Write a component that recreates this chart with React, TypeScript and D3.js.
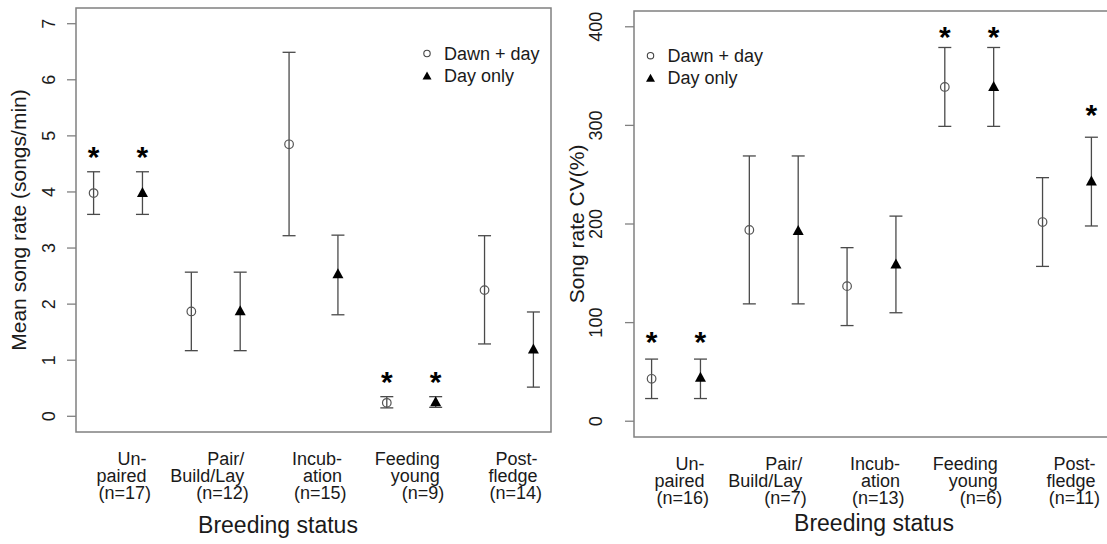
import React from "react";
import * as d3 from "d3";

// ---------- data ----------
const categories: string[][] = [
  ["Un-", "paired"],
  ["Pair/", "Build/Lay"],
  ["Incub-", "ation"],
  ["Feeding", "young"],
  ["Post-", "fledge"],
];
const nLeft = [17, 12, 15, 9, 14];
const nRight = [16, 7, 13, 6, 11];

// Mean song rate (songs/min)
const rateDawnMean = [3.98, 1.87, 4.85, 0.24, 2.25];
const rateDawnUpper = [4.36, 2.57, 6.49, 0.35, 3.22];
const rateDawnLower = [3.6, 1.17, 3.22, 0.15, 1.29];
const rateDayMean = [4.0, 1.89, 2.55, 0.27, 1.21];
const rateDayUpper = [4.36, 2.57, 3.23, 0.35, 1.86];
const rateDayLower = [3.6, 1.17, 1.81, 0.16, 0.52];
const rateStarDawn: (number | null)[] = [4.74, null, null, 0.745, null];
const rateStarDay: (number | null)[] = [4.74, null, null, 0.745, null];

// Song rate CV (%)
const cvDawnMean = [43, 194, 137, 339, 202];
const cvDawnUpper = [63, 269, 176, 379, 247];
const cvDawnLower = [23, 119, 97, 299, 157];
const cvDayMean = [45, 194, 160, 340, 244];
const cvDayUpper = [63, 269, 208, 379, 288];
const cvDayLower = [23, 119, 110, 299, 198];
const cvStarDawn: (number | null)[] = [87, null, null, 397, null];
const cvStarDay: (number | null)[] = [87, null, null, 397, 318];

const rateTicks = [0, 1, 2, 3, 4, 5, 6, 7];
const cvTicks = [0, 100, 200, 300, 400];

const legendLabels = ["Dawn + day", "Day only"];
const xTitle = "Breeding status";

// ---------- styles ----------
const FONT = "'Liberation Sans', Arial, Helvetica, sans-serif";
const BOX = "#808080";
const BAR = "#4a4a4a";
const TXT = "#1a1a1a";

type PanelProps = {
  xRange: [number, number];
  yDomain: [number, number];
  yRange: [number, number];
  ticks: number[];
  dawn: { mean: number[]; up: number[]; lo: number[]; star: (number | null)[] };
  day: { mean: number[]; up: number[]; lo: number[]; star: (number | null)[] };
  ns: number[];
  yTitle: string;
  yTitleX: number;
  tickLabelX: number;
  legendX: number;
  legendY: number;
  xTitleX: number;
  xTitleY: number;
  boxRight: number;
};

function Panel(p: PanelProps) {
  const x = d3.scaleLinear().domain([0.64, 10.36]).range(p.xRange);
  const y = d3.scaleLinear().domain(p.yDomain).range(p.yRange);
  const [x0] = p.xRange;
  const [yb, yt] = p.yRange;
  const cap = 6.5;

  const tri = (cx: number, cy: number, w: number, h: number) =>
    `M${cx},${cy - h / 2}L${cx + w / 2},${cy + h / 2}L${cx - w / 2},${cy + h / 2}Z`;

  const series = [
    { s: p.dawn, off: 1, kind: "circle" },
    { s: p.day, off: 2, kind: "tri" },
  ];

  return (
    <g>
      <rect x={x0} y={yt} width={p.boxRight - x0} height={yb - yt} fill="none" stroke={BOX} strokeWidth={1.5} />
      {p.ticks.map((t) => (
        <g key={t}>
          <line x1={x0 - 9} x2={x0} y1={y(t)} y2={y(t)} stroke={BOX} strokeWidth={1.3} />
          <text
            transform={`translate(${p.tickLabelX},${y(t)}) rotate(-90)`}
            textAnchor="middle"
            fontSize={18}
            fill={TXT}
            fontFamily={FONT}
          >
            {t}
          </text>
        </g>
      ))}
      <text
        transform={`translate(${p.yTitleX},${(yb + yt) / 2}) rotate(-90)`}
        textAnchor="middle"
        fontSize={21}
        fill={TXT}
        fontFamily={FONT}
      >
        {p.yTitle}
      </text>
      {series.map(({ s, off, kind }) =>
        s.mean.map((m, i) => {
          const cx = x(2 * i + off);
          return (
            <g key={`${off}-${i}`}>
              <line x1={cx} x2={cx} y1={y(s.lo[i])} y2={y(s.up[i])} stroke={BAR} strokeWidth={1.3} />
              <line x1={cx - cap} x2={cx + cap} y1={y(s.lo[i])} y2={y(s.lo[i])} stroke={BAR} strokeWidth={1.3} />
              <line x1={cx - cap} x2={cx + cap} y1={y(s.up[i])} y2={y(s.up[i])} stroke={BAR} strokeWidth={1.3} />
              {kind === "circle" ? (
                <circle cx={cx} cy={y(m)} r={4.3} fill="none" stroke="#555" strokeWidth={1.2} />
              ) : (
                <path d={tri(cx, y(m), 11, 10)} fill="#000" />
              )}
              {s.star[i] != null && (
                <text
                  x={cx}
                  y={y(s.star[i] as number) + 17}
                  textAnchor="middle"
                  fontSize={30}
                  fontWeight="bold"
                  fill="#000"
                  fontFamily={FONT}
                >
                  *
                </text>
              )}
            </g>
          );
        })
      )}
      {categories.map((c, i) => {
        const gc = (x(2 * i + 1) + x(2 * i + 2)) / 2;
        return (
          <g key={i} fontFamily={FONT} fontSize={18} fill={TXT}>
            <text x={gc + 28.5} y={yb + 33} textAnchor="end">{c[0]}</text>
            <text x={gc + 28.5} y={yb + 50} textAnchor="end">{c[1]}</text>
            <text x={gc + 33} y={yb + 67} textAnchor="end">{`(n=${p.ns[i]})`}</text>
          </g>
        );
      })}
      <text x={p.xTitleX} y={p.xTitleY} textAnchor="middle" fontSize={23} fill={TXT} fontFamily={FONT}>
        {xTitle}
      </text>
      <g fontFamily={FONT} fontSize={18} fill={TXT}>
        <circle cx={p.legendX} cy={p.legendY} r={3.2} fill="none" stroke="#444" strokeWidth={1.1} />
        <text x={p.legendX + 17} y={p.legendY + 6.5}>{legendLabels[0]}</text>
        <path d={tri(p.legendX, p.legendY + 22, 9, 8)} fill="#000" />
        <text x={p.legendX + 17} y={p.legendY + 28.5}>{legendLabels[1]}</text>
      </g>
    </g>
  );
}

export default function App() {
  return (
    <svg
      width={1107}
      height={544}
      style={{ position: "absolute", left: 0, top: 0, background: "#fff" }}
    >
      <rect width={1107} height={544} fill="#fff" />
      <Panel
        xRange={[76, 551]}
        yDomain={[-0.28, 7.28]}
        yRange={[432, 8]}
        ticks={rateTicks}
        dawn={{ mean: rateDawnMean, up: rateDawnUpper, lo: rateDawnLower, star: rateStarDawn }}
        day={{ mean: rateDayMean, up: rateDayUpper, lo: rateDayLower, star: rateStarDay }}
        ns={nLeft}
        yTitle="Mean song rate (songs/min)"
        yTitleX={25.5}
        tickLabelX={54.5}
        legendX={427}
        legendY={53.5}
        xTitleX={278}
        xTitleY={533}
        boxRight={551}
      />
      <Panel
        xRange={[634, 1109]}
        yDomain={[-16, 416]}
        yRange={[437, 11]}
        ticks={cvTicks}
        dawn={{ mean: cvDawnMean, up: cvDawnUpper, lo: cvDawnLower, star: cvStarDawn }}
        day={{ mean: cvDayMean, up: cvDayUpper, lo: cvDayLower, star: cvStarDay }}
        ns={nRight}
        yTitle="Song rate CV(%)"
        yTitleX={584}
        tickLabelX={601.5}
        legendX={650.5}
        legendY={55.7}
        xTitleX={874}
        xTitleY={531}
        boxRight={1110}
      />
    </svg>
  );
}
